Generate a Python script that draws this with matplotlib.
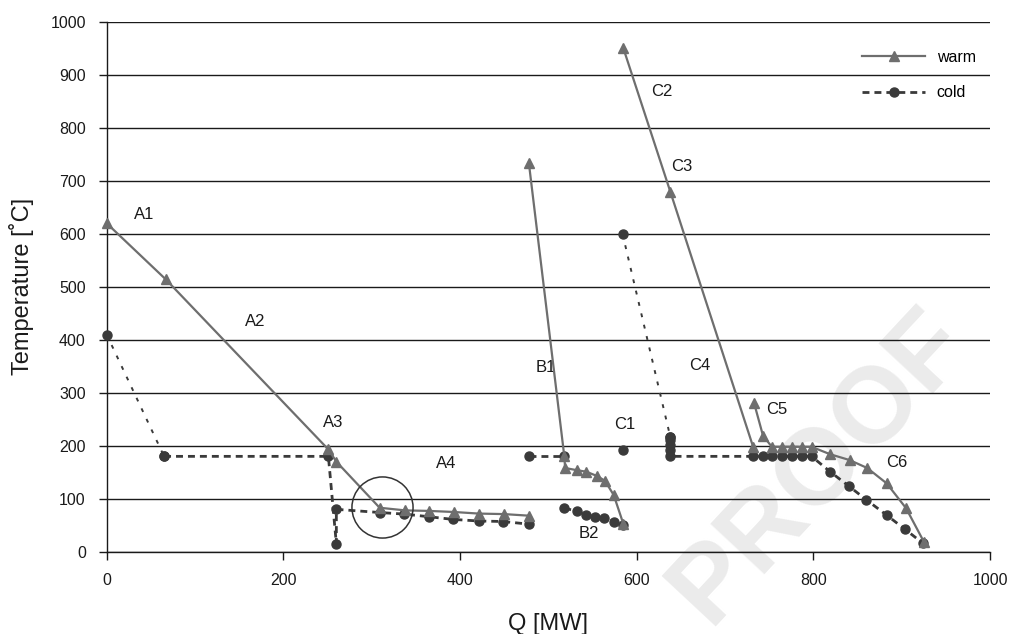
import matplotlib
matplotlib.use("Agg")
import matplotlib.pyplot as plt

# Composite curves (Q in MW, T in deg C)
warm_a_q = [0, 67, 251, 260, 309, 338, 365, 393, 421, 450, 478]
warm_a_t = [620, 514, 193, 170, 83, 78, 77, 75, 72, 71, 68]
warm_b_q = [478, 518, 519, 532, 543, 555, 564, 574, 585]
warm_b_t = [733, 181, 158, 154, 151, 143, 134, 107, 52]
warm_c_q = [585, 638, 732]
warm_c_t = [950, 680, 197]
warm_c5_q = [733, 743, 753, 764, 776, 787, 798, 819, 841, 861, 883, 905, 925]
warm_c5_t = [280, 219, 198, 198, 198, 198, 198, 184, 173, 158, 129, 82, 19]

# steep cold drops are drawn with a thinner, sparser dash in the original
cold_a_drop_q = [0, 65]
cold_a_drop_t = [410, 180]
cold_a_q = [65, 251, 260, 260, 309, 337, 365, 392, 421, 449, 478]
cold_a_t = [180, 180, 15, 80, 74, 71, 66, 61, 58, 57, 52]
cold_b1_q = [478, 518]
cold_b1_t = [181, 181]
cold_b2_q = [518, 532, 543, 553, 563, 574, 585]
cold_b2_t = [82, 77, 69, 66, 63, 57, 51]
cold_c1_q = [584]
cold_c1_t = [192]
cold_c_drop_q = [584, 638]
cold_c_drop_t = [600, 217]
cold_c_q = [638, 638, 638, 638, 638, 732, 743, 753, 764, 776, 787, 798,
            819, 840, 860, 883, 904, 924]
cold_c_t = [217, 211, 202, 192, 180, 180, 180, 180, 180, 180, 180, 180,
            151, 124, 98, 69, 42, 16]

seg_names = ["A1", "A2", "A3", "A4", "B1", "B2", "C1", "C2", "C3", "C4", "C5", "C6"]
seg_q = [42, 168, 256, 384, 497, 546, 587, 628, 651, 671, 758, 894]
seg_t = [636, 434, 243, 166, 347, 35, 240, 868, 728, 351, 268, 168]

pinch_q = 312
pinch_t = 84

WARM = "#6e6e6e"
COLD = "#3a3a3a"

plt.rcParams["font.family"] = ["Liberation Sans", "DejaVu Sans"]


def plot_warm(ax, q, t, label=None):
    ax.plot(q, t, color=WARM, lw=1.6, marker="^", ms=7, mec=WARM, mfc=WARM,
            label=label, clip_on=False, zorder=4)


def plot_cold(ax, q, t, label=None, thin=False):
    if thin:
        ls, lw = (0, (2.0, 4.0)), 1.4
    else:
        ls, lw = (0, (2.5, 1.8)), 2.0
    ax.plot(q, t, color=COLD, lw=lw, ls=ls, marker="o", ms=6.5,
            mec=COLD, mfc=COLD, label=label, clip_on=False, zorder=3)


def main():
    fig = plt.figure(figsize=(10.12, 6.34), dpi=100)
    ax = fig.add_axes([0.1054, 0.1298, 0.8729, 0.8355])
    ax.set_facecolor("none")

    # faint watermark behind everything
    fig.text(0.81, 0.265, "PROOF", rotation=47, fontsize=78, weight="bold",
             color="#ebebeb", ha="center", va="center", zorder=-1)

    plot_warm(ax, warm_a_q, warm_a_t, label="warm")
    plot_warm(ax, warm_b_q, warm_b_t)
    plot_warm(ax, warm_c_q, warm_c_t)
    plot_warm(ax, warm_c5_q, warm_c5_t)

    plot_cold(ax, cold_a_q, cold_a_t, label="cold")
    plot_cold(ax, cold_a_drop_q, cold_a_drop_t, thin=True)
    plot_cold(ax, cold_b1_q, cold_b1_t)
    plot_cold(ax, cold_b2_q, cold_b2_t)
    plot_cold(ax, cold_c1_q, cold_c1_t)
    plot_cold(ax, cold_c_drop_q, cold_c_drop_t, thin=True)
    plot_cold(ax, cold_c_q, cold_c_t)

    # pinch circle
    ax.plot([pinch_q], [pinch_t], marker="o", ms=44, mfc="none", mec="#333333",
            mew=1.1, ls="none", zorder=5)

    for name, q, t in zip(seg_names, seg_q, seg_t):
        ax.text(q, t, name, fontsize=12, ha="center", va="center", color="#1a1a1a")

    ax.set_xlim(0, 1000)
    ax.set_ylim(0, 1000)
    ax.set_xticks(range(0, 1001, 200))
    ax.set_yticks(range(0, 1001, 100))
    ax.yaxis.grid(True, color="#1a1a1a", lw=1.0)
    ax.set_axisbelow(True)
    for side in ["top", "right"]:
        ax.spines[side].set_visible(False)
    for side in ["left", "bottom"]:
        ax.spines[side].set_color("#1a1a1a")
        ax.spines[side].set_linewidth(1.0)
    ax.tick_params(direction="out", length=6, width=1.0, color="#1a1a1a",
                   labelsize=11.5, labelcolor="#1a1a1a", pad=9)

    ax.set_xlabel("Q [MW]", fontsize=17, labelpad=18, color="#1a1a1a")
    ax.set_ylabel("Temperature [\u02daC]", fontsize=17, labelpad=12, color="#1a1a1a")

    ax.legend(loc="upper right", bbox_to_anchor=(1.0, 0.975), frameon=False,
              fontsize=11.5, numpoints=1, handlelength=4.0, handletextpad=0.7,
              labelspacing=1.3)

    fig.savefig("out.png", dpi=100)


if __name__ == "__main__":
    main()
